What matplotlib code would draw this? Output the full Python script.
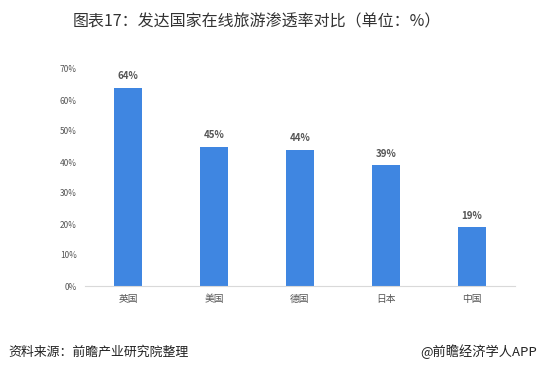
import matplotlib.pyplot as plt
import numpy as np

plt.rcParams['font.family'] = ['Noto Sans CJK SC', 'DejaVu Sans']

countries = ['英国', '美国', '德国', '日本', '中国']
rates = [0.64, 0.45, 0.44, 0.39, 0.19]
yticks = [0, 0.1, 0.2, 0.3, 0.4, 0.5, 0.6, 0.7]


def main():
    fig = plt.figure(figsize=(5.41, 3.69), dpi=100)
    ax = fig.add_axes([85 / 541, 83 / 369, 430 / 541, 217 / 369])

    x = np.arange(len(countries))
    ax.bar(x, rates, width=0.32, color='#3F86E1')
    for xi, v in zip(x, rates):
        ax.text(xi, v + 0.02, '%d%%' % round(v * 100), ha='center', va='bottom',
                fontsize=7, color='#555555', fontweight='bold')

    ax.set_xlim(-0.5, len(countries) - 0.5)
    ax.set_ylim(0, 0.7)
    ax.set_yticks(yticks)
    ax.set_yticklabels(['%d%%' % round(t * 100) for t in yticks], fontsize=6, color='#555555')
    ax.set_xticks(x)
    ax.set_xticklabels(countries, fontsize=7, color='#555555')
    ax.tick_params(length=0, pad=6)
    for s in ['top', 'right', 'left']:
        ax.spines[s].set_visible(False)
    ax.spines['bottom'].set_color('#d9d9d9')

    fig.text(257 / 541, 1 - 22 / 369, '图表17：发达国家在线旅游渗透率对比（单位：%）',
             ha='center', va='center', fontsize=11.5, color='#333333')
    fig.text(8 / 541, 1 - 352 / 369, '资料来源：前瞻产业研究院整理', ha='left', va='center',
             fontsize=9.3, style='italic', color='#222222')
    fig.text(537 / 541, 1 - 352 / 369, '@前瞻经济学人APP', ha='right', va='center',
             fontsize=9.5, color='#222222')

    fig.savefig('out.png', dpi=100)


if __name__ == '__main__':
    main()
